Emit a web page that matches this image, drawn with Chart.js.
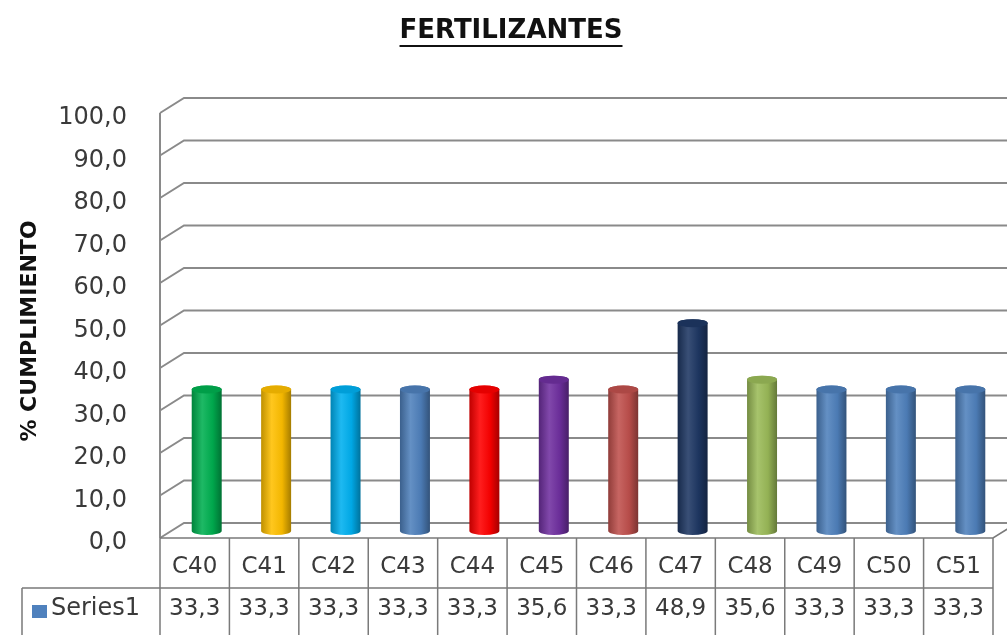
<!DOCTYPE html>
<html><head><meta charset="utf-8">
<script src="https://cdn.jsdelivr.net/npm/chart.js@4/dist/chart.umd.min.js"></script>
<style>html,body{margin:0;padding:0;background:#fff}#wrap{width:1007px;height:635px}</style>
</head><body><div id="wrap"><canvas id="c" width="1007" height="635"></canvas></div>
<script>
const categories = ['C40','C41','C42','C43','C44','C45','C46','C47','C48','C49','C50','C51'];
const values = [33.3,33.3,33.3,33.3,33.3,35.6,33.3,48.9,35.6,33.3,33.3,33.3];
const barColors = ['#00B050','#FFC000','#00B0F0','#4F81BD','#FF0000','#7030A0','#C0504D','#1F3864','#9BBB59','#4F81BD','#4F81BD','#4F81BD'];
const yTicks = [0,10,20,30,40,50,60,70,80,90,100];
const seriesName = 'Series1';
const seriesColor = '#4F81BD';
const chartTitle = 'FERTILIZANTES';
const yTitle = '% CUMPLIMIENTO';

const FONT = '"DejaVu Sans", sans-serif';
const DEPTH_X = 24, DEPTH_Y = -15;
const BAR_DX = 12, BAR_DY = -7;
const GRID = '#8a8a8a';
const TXT = '#3a3a3a';

function shade(hex, f) {
  const n = parseInt(hex.slice(1), 16);
  let r = n >> 16, g = (n >> 8) & 255, b = n & 255;
  if (f >= 0) { r += (255 - r) * f; g += (255 - g) * f; b += (255 - b) * f; }
  else { r *= 1 + f; g *= 1 + f; b *= 1 + f; }
  return `rgb(${r|0},${g|0},${b|0})`;
}

const fx = {
  id: 'fx',
  beforeDraw(chart) {
    const ctx = chart.ctx, ca = chart.chartArea, y = chart.scales.y;
    ctx.save();
    ctx.fillStyle = '#111';
    ctx.font = 'bold 26px ' + FONT;
    ctx.textAlign = 'center'; ctx.textBaseline = 'middle';
    const tw = ctx.measureText(chartTitle).width;
    ctx.fillText(chartTitle, 511, 31);
    ctx.fillRect(511 - tw / 2, 45, tw, 2);
    ctx.save();
    ctx.translate(30, 331); ctx.rotate(-Math.PI / 2);
    ctx.font = 'bold 22px ' + FONT; ctx.fillStyle = '#111';
    ctx.fillText(yTitle, 0, 0);
    ctx.restore();
    ctx.strokeStyle = GRID; ctx.lineWidth = 2;
    yTicks.forEach(v => {
      const yy = y.getPixelForValue(v);
      ctx.beginPath();
      ctx.moveTo(ca.left, yy);
      ctx.lineTo(ca.left + DEPTH_X, yy + DEPTH_Y);
      ctx.lineTo(chart.width, yy + DEPTH_Y);
      ctx.stroke();
    });
    ctx.beginPath();
    ctx.moveTo(ca.left, y.getPixelForValue(100));
    ctx.lineTo(ca.left, ca.bottom);
    ctx.stroke();
    ctx.restore();
  },
  beforeDatasetDraw() { return false; },
  afterDatasetsDraw(chart) {
    const ctx = chart.ctx;
    const meta = chart.getDatasetMeta(0);
    ctx.save();
    meta.data.forEach((el, i) => {
      const col = barColors[i];
      const cx = el.x + BAR_DX, top = el.y + BAR_DY, base = el.base + BAR_DY;
      const rx = el.width / 2, ry = 4;
      const g = ctx.createLinearGradient(cx - rx, 0, cx + rx, 0);
      g.addColorStop(0, shade(col, -0.25));
      g.addColorStop(0.35, shade(col, 0.12));
      g.addColorStop(0.7, shade(col, -0.05));
      g.addColorStop(1, shade(col, -0.35));
      ctx.fillStyle = g;
      ctx.beginPath();
      ctx.moveTo(cx - rx, top);
      ctx.lineTo(cx - rx, base);
      ctx.ellipse(cx, base, rx, ry, 0, Math.PI, 0, true);
      ctx.lineTo(cx + rx, top);
      ctx.ellipse(cx, top, rx, ry, 0, 0, Math.PI, true);
      ctx.closePath();
      ctx.fill();
      ctx.beginPath();
      ctx.ellipse(cx, top, rx, ry, 0, 0, Math.PI * 2);
      ctx.fillStyle = shade(col, -0.1);
      ctx.fill();
    });
    ctx.restore();
  },
  afterDraw(chart) {
    const ctx = chart.ctx, ca = chart.chartArea, x = chart.scales.x;
    const n = categories.length;
    const colW = (ca.right - ca.left) / n;
    const r1 = ca.bottom, r2 = 588, r3 = 640;
    ctx.save();
    ctx.strokeStyle = '#7a7a7a'; ctx.lineWidth = 1.5;
    ctx.beginPath();
    ctx.moveTo(ca.left, r1); ctx.lineTo(ca.right, r1);
    ctx.lineTo(ca.right + DEPTH_X, r1 + DEPTH_Y);
    ctx.moveTo(22, r2); ctx.lineTo(ca.right, r2);
    ctx.moveTo(22, r2); ctx.lineTo(22, r3);
    for (let i = 0; i <= n; i++) {
      const bx = (i < n ? x.getPixelForValue(i) - colW / 2 : x.getPixelForValue(n - 1) + colW / 2);
      ctx.moveTo(bx, r1); ctx.lineTo(bx, r3);
    }
    ctx.stroke();
    ctx.fillStyle = TXT;
    ctx.font = '23px ' + FONT;
    ctx.textAlign = 'center'; ctx.textBaseline = 'middle';
    categories.forEach((c, i) => {
      const cx = x.getPixelForValue(i);
      ctx.fillText(c, cx, 567);
      ctx.fillText(values[i].toFixed(1).replace('.', ','), cx, 609);
    });
    ctx.fillStyle = seriesColor;
    ctx.fillRect(32, 605, 15, 13);
    ctx.fillStyle = TXT; ctx.textAlign = 'left';
    ctx.font = '24px ' + FONT;
    ctx.fillText(seriesName, 51, 609);
    ctx.restore();
  }
};

new Chart(document.getElementById('c'), {
  type: 'bar',
  data: {
    labels: categories,
    datasets: [{ label: seriesName, data: values, backgroundColor: barColors,
      categoryPercentage: 1, barPercentage: 0.432 }]
  },
  options: {
    responsive: false, animation: false, devicePixelRatio: 1,
    layout: { padding: { top: 113, bottom: 97, left: 0, right: 14 } },
    plugins: { legend: { display: false }, tooltip: { enabled: false }, title: { display: false } },
    scales: {
      x: { display: false },
      y: {
        min: 0, max: 100,
        afterFit: s => { s.width = 160; },
        afterBuildTicks: s => { s.ticks = yTicks.map(v => ({ value: v })); },
        ticks: { callback: v => Number(v).toFixed(1).replace('.', ','), color: TXT,
          font: { family: FONT, size: 24 }, padding: 33, labelOffset: 5 },
        grid: { display: false, drawTicks: false },
        border: { display: false }
      }
    }
  },
  plugins: [fx]
});
</script></body></html>
